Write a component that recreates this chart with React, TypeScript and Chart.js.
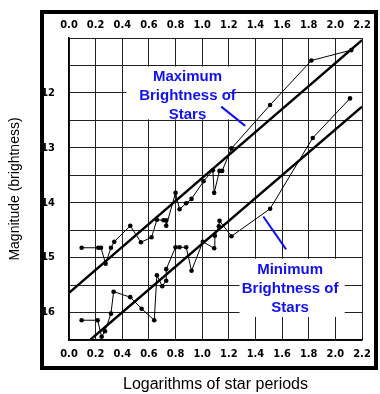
import React, { useEffect, useRef } from 'react';
import { Chart, registerables } from 'chart.js';

Chart.register(...registerables);

// ---- data ----
const xTickLabels = ['0.0', '0.2', '0.4', '0.6', '0.8', '1.0', '1.2', '1.4', '1.6', '1.8', '2.0', '2.2'];
const yGridValues = [11, 11.5, 12, 12.5, 13, 13.5, 14, 14.5, 15, 15.5, 16, 16.5];
const yTickLabels = ['12', '13', '14', '15', '16'];

// Maximum brightness (log period, magnitude)
const maxLogP = [0.095, 0.22, 0.24, 0.275, 0.315, 0.34, 0.46, 0.54, 0.62, 0.66, 0.71, 0.73, 0.73, 0.80, 0.83, 0.88, 0.92, 1.01, 1.08, 1.09, 1.13, 1.15, 1.22, 1.51, 1.82, 2.12];
const maxMag = [14.82, 14.82, 14.82, 15.11, 14.82, 14.71, 14.42, 14.72, 14.63, 14.31, 14.32, 14.32, 14.42, 13.82, 14.12, 14.01, 13.93, 13.61, 13.41, 13.82, 13.42, 13.42, 13.01, 12.22, 11.41, 11.22];

// Minimum brightness
const minLogP = [0.095, 0.215, 0.245, 0.27, 0.315, 0.335, 0.46, 0.545, 0.64, 0.66, 0.70, 0.73, 0.73, 0.80, 0.83, 0.88, 0.92, 1.005, 1.09, 1.095, 1.125, 1.13, 1.22, 1.51, 1.83, 2.11];
const minMag = [16.14, 16.14, 16.44, 16.34, 16.02, 15.62, 15.72, 15.93, 16.14, 15.32, 15.52, 15.42, 15.21, 14.81, 14.81, 14.81, 15.24, 14.71, 14.83, 14.6, 14.43, 14.33, 14.61, 14.11, 12.82, 12.10];

// Fitted lines
const maxFitLogP = [0, 2.2];
const maxFitMag = [15.64, 11.04];
const minFitLogP = [0.1, 2.2];
const minFitMag = [16.62, 12.25];

const maxLabelLines = ['Maximum', 'Brightness of', 'Stars'];
const minLabelLines = ['Minimum', 'Brightness of', 'Stars'];

const toXY = (xs: number[], ys: number[]) => xs.map((x, i) => ({ x, y: ys[i] }));

const decorPlugin = {
  id: 'decor',
  beforeDraw(chart: any) {
    const { ctx, chartArea } = chart;
    ctx.save();
    ctx.strokeStyle = '#000';
    ctx.lineWidth = 4;
    ctx.strokeRect(chartArea.left - 27, chartArea.top - 26, chartArea.right - chartArea.left + 41, chartArea.bottom - chartArea.top + 54);
    ctx.restore();
  },
  beforeDatasetsDraw(chart: any) {
    const { ctx } = chart;
    const xs = chart.scales.x;
    const ys = chart.scales.y;
    const patch = (x0: number, x1: number, y0: number, y1: number) => {
      const px0 = xs.getPixelForValue(x0);
      const px1 = xs.getPixelForValue(x1);
      const py0 = ys.getPixelForValue(y0);
      const py1 = ys.getPixelForValue(y1);
      ctx.fillRect(px0, py0, px1 - px0, py1 - py0);
    };
    ctx.save();
    ctx.fillStyle = '#fff';
    patch(0.43, 1.205, 11.52, 12.48);
    patch(1.2, 1.39, 11.52, 11.98);
    patch(1.28, 2.07, 15.02, 16.08);
    ctx.restore();
  },
  afterDatasetsDraw(chart: any) {
    const { ctx } = chart;
    const xs = chart.scales.x;
    const ys = chart.scales.y;
    const blue = '#1010f0';
    ctx.save();
    ctx.fillStyle = blue;
    ctx.font = 'bold 15px "Liberation Sans", Arial, sans-serif';
    ctx.textAlign = 'center';
    ctx.textBaseline = 'middle';
    const drawLabel = (lines: string[], x: number, y: number) => {
      const px = xs.getPixelForValue(x);
      const py = ys.getPixelForValue(y);
      lines.forEach((t, i) => ctx.fillText(t, px, py + i * 19));
    };
    drawLabel(maxLabelLines, 0.89, 11.7);
    drawLabel(minLabelLines, 1.66, 15.22);
    ctx.strokeStyle = blue;
    ctx.lineWidth = 2;
    const pointer = (x0: number, y0: number, x1: number, y1: number) => {
      ctx.beginPath();
      ctx.moveTo(xs.getPixelForValue(x0), ys.getPixelForValue(y0));
      ctx.lineTo(xs.getPixelForValue(x1), ys.getPixelForValue(y1));
      ctx.stroke();
    };
    pointer(1.143, 12.25, 1.323, 12.6);
    pointer(1.459, 14.25, 1.63, 14.85);
    ctx.restore();
  },
};

const tickFont = { family: '"Liberation Sans Narrow", "DejaVu Sans Condensed", "Liberation Sans", sans-serif', size: 11, weight: 'bold' };

export default function App() {
  const ref = useRef<HTMLCanvasElement | null>(null);
  useEffect(() => {
    if (!ref.current) return;
    const xValues = xTickLabels.map((s) => parseFloat(s));
    const chart = new Chart(ref.current, {
      type: 'line',
      data: {
        datasets: [
          {
            data: toXY(maxFitLogP, maxFitMag),
            borderColor: '#000',
            borderWidth: 2.5,
            pointRadius: 0,
          },
          {
            data: toXY(minFitLogP, minFitMag),
            borderColor: '#000',
            borderWidth: 2.5,
            pointRadius: 0,
          },
          {
            data: toXY(maxLogP, maxMag),
            borderColor: '#000',
            borderWidth: 1,
            pointRadius: 2.3,
            pointBackgroundColor: '#000',
            pointBorderWidth: 0,
          },
          {
            data: toXY(minLogP, minMag),
            borderColor: '#000',
            borderWidth: 1,
            pointRadius: 2.3,
            pointBackgroundColor: '#000',
            pointBorderWidth: 0,
          },
        ],
      },
      options: {
        responsive: false,
        animation: false,
        layout: { padding: { left: 0, top: 0, right: 18, bottom: 0 } },
        plugins: { legend: { display: false }, tooltip: { enabled: false } },
        scales: {
          x: {
            type: 'linear',
            position: 'bottom',
            min: 0,
            max: 2.2,
            afterBuildTicks: (s: any) => { s.ticks = xValues.map((v) => ({ value: v })); },
            afterFit: (s: any) => { s.height = 54; },
            ticks: {
              color: '#000',
              font: tickFont,
              padding: 8,
              maxRotation: 0,
              autoSkip: false,
              callback: (_v: any, i: number) => xTickLabels[i],
            },
            grid: { color: '#222', lineWidth: 1, drawTicks: false },
            border: { color: '#000', width: 1.5 },
            title: {
              display: true,
              text: 'Logarithms of star periods',
              color: '#000',
              font: { family: '"Liberation Sans", Arial, sans-serif', size: 16 },
              padding: { top: 0, bottom: 0 },
            },
          },
          xTop: {
            type: 'linear',
            position: 'top',
            min: 0,
            max: 2.2,
            afterBuildTicks: (s: any) => { s.ticks = xValues.map((v) => ({ value: v })); },
            afterFit: (s: any) => { s.height = 38; },
            ticks: {
              color: '#000',
              font: tickFont,
              padding: 6,
              maxRotation: 0,
              autoSkip: false,
              callback: (_v: any, i: number) => xTickLabels[i],
            },
            grid: { display: false, drawTicks: false },
            border: { display: false },
          },
          y: {
            type: 'linear',
            position: 'left',
            reverse: true,
            min: 11,
            max: 16.5,
            afterBuildTicks: (s: any) => { s.ticks = yGridValues.map((v) => ({ value: v })); },
            afterFit: (s: any) => { s.width = 69; },
            ticks: {
              color: '#000',
              font: tickFont,
              padding: 14,
              autoSkip: false,
              callback: (v: any) => {
                const lbl = String(v);
                return yTickLabels.includes(lbl) ? lbl : '';
              },
            },
            grid: { color: '#222', lineWidth: 1, drawTicks: false },
            border: { color: '#000', width: 1.5 },
            title: {
              display: true,
              text: 'Magnitude (brightness)',
              color: '#000',
              font: { family: '"Liberation Sans", Arial, sans-serif', size: 14 },
              padding: { top: 7, bottom: 0 },
            },
          },
        },
      },
      plugins: [decorPlugin],
    } as any);
    return () => chart.destroy();
  }, []);
  return (
    <canvas
      ref={ref}
      width={380}
      height={394}
      style={{ position: 'absolute', left: 0, top: 0, display: 'block', background: '#fff' }}
    />
  );
}
